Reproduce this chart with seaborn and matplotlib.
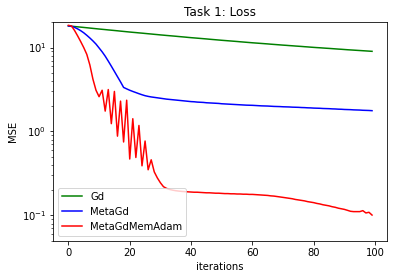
import matplotlib
matplotlib.use("Agg")
import matplotlib.pyplot as plt
import seaborn as sns
import pandas as pd

iterations = list(range(100))

gd = [18.11, 17.96, 17.81, 17.66, 17.51, 17.37, 17.22, 17.07, 16.92, 16.78,
      16.63, 16.50, 16.37, 16.23, 16.10, 15.97, 15.84, 15.70, 15.57, 15.44,
      15.31, 15.19, 15.08, 14.96, 14.85, 14.73, 14.61, 14.50, 14.38, 14.27,
      14.15, 14.05, 13.94, 13.84, 13.74, 13.64, 13.53, 13.43, 13.33, 13.22,
      13.12, 13.03, 12.94, 12.85, 12.76, 12.67, 12.57, 12.48, 12.39, 12.30,
      12.21, 12.13, 12.05, 11.97, 11.89, 11.81, 11.72, 11.64, 11.56, 11.48,
      11.40, 11.33, 11.26, 11.19, 11.12, 11.05, 10.97, 10.90, 10.83, 10.76,
      10.69, 10.63, 10.56, 10.50, 10.43, 10.37, 10.31, 10.24, 10.18, 10.11,
      10.05, 9.99, 9.94, 9.88, 9.82, 9.77, 9.71, 9.65, 9.59, 9.54,
      9.48, 9.42, 9.37, 9.32, 9.27, 9.22, 9.17, 9.12, 9.07, 9.02]

meta_gd = [18.1, 17.9, 17.4, 16.7, 15.9, 15.0, 14.0, 13.0, 12.0, 11.0,
           9.9, 8.9, 7.9, 6.9, 6.0, 5.2, 4.5, 3.9, 3.35, 3.22,
           3.10, 3.00, 2.91, 2.82, 2.74, 2.67, 2.62, 2.58, 2.55, 2.52,
           2.49, 2.46, 2.43, 2.41, 2.39, 2.37, 2.35, 2.33, 2.31, 2.29,
           2.27, 2.26, 2.24, 2.23, 2.22, 2.20, 2.19, 2.18, 2.17, 2.16,
           2.14, 2.13, 2.12, 2.11, 2.10, 2.09, 2.08, 2.07, 2.06, 2.055,
           2.05, 2.04, 2.03, 2.02, 2.015, 2.01, 2.00, 1.99, 1.985, 1.98,
           1.97, 1.965, 1.96, 1.95, 1.945, 1.94, 1.93, 1.925, 1.915, 1.91,
           1.90, 1.895, 1.89, 1.88, 1.875, 1.87, 1.86, 1.855, 1.845, 1.84,
           1.83, 1.825, 1.82, 1.81, 1.805, 1.80, 1.79, 1.785, 1.78, 1.77]

meta_gd_mem_adam = [18.4, 18.1, 16.0, 13.8, 11.8, 10.0, 8.3, 6.2, 4.2, 3.1,
                    2.6, 3.1, 1.75, 3.16, 1.24, 3.0, 0.88, 2.3, 0.75, 2.36,
                    0.47, 1.42, 0.49, 1.18, 0.39, 0.77, 0.35, 0.46, 0.33, 0.28,
                    0.245, 0.22, 0.21, 0.204, 0.200, 0.197, 0.195, 0.193, 0.192, 0.191,
                    0.190, 0.189, 0.189, 0.188, 0.187, 0.186, 0.186, 0.185, 0.184, 0.184,
                    0.183, 0.182, 0.182, 0.181, 0.181, 0.180, 0.180, 0.179, 0.179, 0.178,
                    0.178, 0.177, 0.176, 0.175, 0.174, 0.173, 0.171, 0.170, 0.168, 0.166,
                    0.164, 0.162, 0.160, 0.158, 0.155, 0.153, 0.151, 0.149, 0.146, 0.144,
                    0.142, 0.139, 0.137, 0.134, 0.132, 0.130, 0.127, 0.125, 0.122, 0.120,
                    0.118, 0.115, 0.112, 0.111, 0.111, 0.111, 0.114, 0.107, 0.109, 0.101]

series_names = ["Gd", "MetaGd", "MetaGdMemAdam"]
series_colors = ["green", "blue", "red"]

frames = []
for name, vals in zip(series_names, [gd, meta_gd, meta_gd_mem_adam]):
    frames.append(pd.DataFrame({"iterations": iterations, "MSE": vals, "method": name}))
df = pd.concat(frames, ignore_index=True)

fig = plt.figure(figsize=(398 / 72, 278 / 72), dpi=72)
ax = fig.add_axes([0.1337, 0.1342, 0.9729 - 0.1337, 0.9198 - 0.1342])

sns.lineplot(data=df, x="iterations", y="MSE", hue="method",
             palette=dict(zip(series_names, series_colors)),
             hue_order=series_names, linewidth=1.5, ax=ax)

ax.set_yscale("log")
ax.set_ylim(0.05, 20)
ax.set_xlim(-4.95, 103.95)
ax.set_title("Task 1: Loss")
ax.set_xlabel("iterations")
ax.set_ylabel("MSE")
ax.legend(loc="lower left", title=None)

fig.savefig("out.png", dpi=72)
